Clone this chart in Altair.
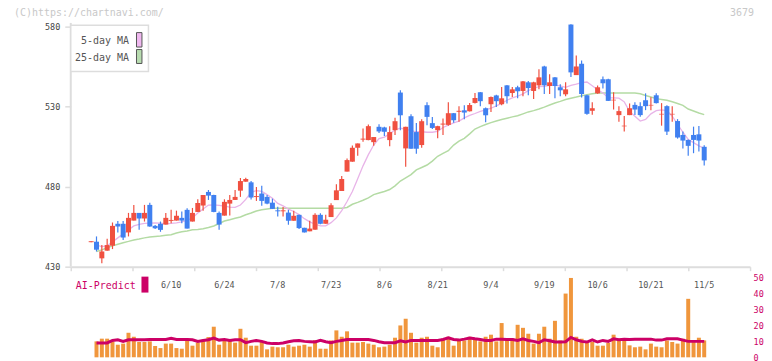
import altair as alt
import pandas as pd

MONO = "DejaVu Sans Mono"

opens = [445.3, 445.6, 435.2, 440.0, 443.1, 456.8, 456.8, 451.4, 458.8, 463.6,
         460.1, 468.6, 455.5, 456.8, 456.3, 458.6, 458.8, 460.5, 465.5, 458.2,
         464.2, 468.2, 476.7, 474.8, 463.6, 461.9, 469.4, 471.7, 477.5, 483.1,
         482.7, 473.5, 475.7, 473.6, 470.0, 465.2, 464.6, 463.8, 458.7, 462.4,
         454.3, 452.1, 453.1, 462.4, 456.8, 461.0, 471.6, 477.3, 489.4, 495.6,
         504.3, 509.4, 509.1, 507.8, 517.4, 517.0, 509.1, 515.3, 538.8, 503.9,
         524.0, 514.1, 506.0, 530.9, 519.7, 515.3, 518.8, 518.6, 525.9, 526.8,
         527.7, 527.1, 532.3, 539.0, 529.0, 531.5, 537.0, 531.5, 543.3, 538.5,
         542.1, 539.8, 545.2, 539.8, 543.3, 555.1, 542.9, 548.3, 542.1, 537.7,
         581.3, 549.7, 556.8, 537.1, 527.4, 538.3, 547.1, 547.1, 533.9, 524.7,
         517.7, 524.7, 531.1, 530.3, 534.0, 530.7, 537.1, 525.1, 530.3, 525.1,
         521.0, 512.3, 509.2, 512.3, 512.7, 504.9]
highs = [445.9, 448.9, 443.6, 447.4, 457.6, 458.6, 458.6, 463.6, 468.6, 463.6,
         468.6, 469.9, 456.0, 458.2, 463.6, 465.5, 465.0, 464.4, 466.5, 466.7,
         472.1, 474.8, 477.9, 475.0, 464.4, 472.1, 474.8, 477.9, 485.4, 485.5,
         483.6, 479.8, 480.6, 474.8, 472.5, 467.5, 467.3, 465.5, 464.9, 462.4,
         454.3, 458.7, 463.4, 463.4, 462.4, 469.6, 481.5, 486.7, 497.6, 505.7,
         507.0, 516.4, 518.8, 511.0, 519.0, 517.5, 517.7, 523.0, 540.2, 517.4,
         525.3, 519.8, 522.1, 532.7, 523.6, 518.0, 522.6, 532.7, 526.0, 530.2,
         530.9, 532.3, 538.5, 539.2, 529.5, 536.3, 537.5, 542.3, 543.5, 542.3,
         543.0, 546.0, 546.0, 545.5, 553.3, 555.5, 550.2, 548.5, 544.0, 545.3,
         581.5, 562.0, 558.9, 537.5, 532.8, 543.2, 548.9, 547.5, 539.0, 530.3,
         524.1, 532.0, 532.8, 532.8, 538.3, 535.9, 538.3, 532.2, 530.8, 530.3,
         522.2, 514.4, 509.5, 517.5, 517.9, 505.9]
lows = [445.3, 439.5, 432.1, 440.0, 441.0, 451.4, 446.6, 448.9, 458.8, 453.0,
        458.2, 455.0, 453.5, 451.8, 456.3, 457.2, 458.8, 457.2, 453.8, 458.2,
        464.2, 465.0, 471.7, 464.0, 453.0, 461.9, 461.9, 471.7, 473.6, 483.0,
        471.9, 471.1, 468.0, 469.0, 466.0, 461.3, 461.3, 456.2, 458.7, 453.5,
        451.4, 452.1, 453.1, 456.5, 456.8, 461.0, 471.6, 477.3, 489.4, 495.6,
        499.3, 508.0, 509.0, 505.5, 513.5, 511.6, 505.3, 512.2, 515.3, 492.5,
        503.7, 500.5, 504.3, 518.4, 516.0, 510.3, 512.2, 518.0, 520.0, 520.5,
        522.1, 527.0, 532.0, 530.2, 520.3, 526.7, 529.8, 530.9, 531.9, 536.0,
        535.2, 536.5, 537.1, 534.8, 540.8, 537.9, 537.9, 535.2, 536.5, 536.5,
        548.5, 549.7, 535.7, 524.9, 524.9, 538.0, 541.3, 533.6, 528.2, 520.6,
        514.4, 524.7, 524.7, 523.7, 527.8, 527.8, 532.0, 518.1, 512.3, 520.6,
        510.0, 503.8, 499.3, 500.9, 502.0, 493.2]
closes = [445.9, 440.6, 439.5, 443.5, 455.5, 455.1, 448.2, 460.5, 463.6, 460.1,
          463.6, 455.1, 454.0, 453.0, 460.5, 459.2, 461.8, 458.8, 453.8, 463.6,
          469.8, 474.8, 474.4, 464.2, 456.3, 470.5, 471.7, 473.6, 483.5, 484.8,
          473.2, 474.1, 471.1, 469.4, 466.1, 464.6, 465.2, 458.7, 461.8, 454.1,
          451.4, 453.8, 462.4, 456.8, 459.3, 468.4, 477.7, 484.8, 496.6, 504.3,
          507.0, 510.0, 517.8, 511.0, 514.5, 514.3, 514.1, 520.9, 524.6, 517.4,
          503.7, 503.7, 520.9, 523.6, 516.7, 517.8, 519.4, 525.9, 521.5, 527.4,
          526.3, 531.0, 535.4, 533.4, 524.6, 536.0, 533.4, 535.2, 536.5, 540.8,
          539.6, 545.8, 541.6, 545.2, 548.3, 543.3, 545.2, 542.9, 540.2, 540.8,
          551.4, 555.1, 537.9, 525.5, 529.0, 542.1, 544.6, 533.6, 534.3, 527.2,
          518.1, 529.0, 528.2, 524.7, 530.3, 531.1, 532.2, 525.5, 514.4, 525.5,
          510.7, 508.8, 505.5, 509.2, 508.8, 496.4]

ma5 = [None, 443.5, 442.5, 443.0, 445.5, 448.0, 450.5, 453.0, 455.5, 456.5,
       457.0, 457.2, 457.4, 457.2, 456.8, 457.0, 457.4, 458.0, 459.0, 460.5,
       463.5, 466.0, 468.5, 468.6, 468.3, 467.8, 467.2, 467.0, 468.5, 472.0,
       476.5, 477.5, 477.0, 475.0, 472.8, 469.5, 468.0, 466.0, 464.5, 462.5,
       460.0, 458.0, 456.5, 455.5, 455.5, 457.5, 460.5, 465.0, 470.7, 477.0,
       485.0, 493.0, 500.0, 506.0, 510.0, 511.0, 513.0, 515.5, 516.5, 516.0,
       515.0, 514.3, 514.3, 514.0, 514.0, 514.5, 517.0, 518.5, 519.8, 521.0,
       523.0, 524.5, 525.7, 527.0, 528.0, 529.0, 530.5, 532.0, 534.0, 535.5,
       536.5, 538.0, 540.0, 541.5, 542.5, 542.7, 543.3, 543.3, 543.0, 542.0,
       543.3, 544.0, 545.0, 545.4, 543.0, 540.5, 538.5, 535.6, 535.5, 535.3,
       533.0, 527.0, 524.0, 521.0, 522.0, 525.5, 527.5, 528.0, 527.5, 524.0,
       519.0, 514.0, 509.5, 507.5, 505.5, 504.0]
ma25 = [None, 439.5, 440.5, 441.8, 443.0, 444.0, 445.0, 445.8, 446.7, 447.3,
        448.0, 448.5, 448.9, 449.2, 449.6, 450.0, 451.0, 451.8, 452.3, 453.0,
        453.3, 453.7, 454.5, 455.4, 457.0, 458.5, 459.3, 460.2, 461.0, 462.4,
        463.5, 464.8, 465.5, 466.0, 466.5, 466.5, 466.5, 466.5, 466.5, 466.5,
        466.5, 466.5, 466.5, 466.5, 466.5, 466.5, 466.5, 466.5, 467.0, 469.0,
        470.2, 471.5, 473.0, 475.0, 476.0, 477.0, 478.2, 480.5, 483.5, 485.5,
        487.5, 490.5, 492.0, 493.5, 496.0, 499.0, 500.8, 502.5, 506.0, 508.5,
        510.2, 513.0, 516.0, 517.5, 518.8, 520.0, 521.0, 522.0, 522.8, 523.6,
        524.3, 525.5, 526.7, 527.5, 528.5, 529.7, 531.0, 532.3, 533.3, 534.5,
        535.3, 536.0, 536.8, 537.5, 538.0, 538.5, 538.5, 538.5, 538.5, 538.5,
        538.5, 538.5, 538.5, 538.0, 537.0, 536.0, 535.0, 534.5, 534.0, 533.0,
        532.0, 530.8, 528.5, 527.3, 526.0, 525.0]

volumes = [None, 10.0, 11.7, 11.7, 9.6, 7.9, 8.6, 15.4, 12.9, 9.6,
           9.6, 10.0, 7.1, 5.8, 8.6, 8.6, 5.8, 5.4, 11.7, 7.3,
           9.2, 10.6, 12.7, 19.2, 7.9, 10.6, 10.6, 9.2, 17.9, 12.3,
           7.3, 7.3, 9.6, 5.0, 6.7, 6.3, 6.3, 7.9, 6.7, 7.3,
           7.9, 6.7, 10.8, 5.4, 5.4, 10.6, 16.9, 12.9, 16.3, 9.2,
           9.2, 9.6, 8.6, 7.9, 6.3, 6.7, 7.9, 12.3, 20.0, 24.2,
           15.4, 9.2, 12.3, 12.9, 7.3, 6.3, 11.7, 12.9, 7.3, 10.6,
           10.6, 12.9, 11.7, 10.0, 12.9, 14.2, 10.0, 21.5, 12.1, 12.1,
           20.4, 18.5, 14.8, 8.6, 14.8, 19.2, 11.7, 22.9, 10.6, 40.0,
           49.8, 12.9, 11.7, 9.6, 9.6, 7.3, 7.3, 9.0, 14.2, 11.7,
           11.7, 7.5, 6.3, 6.7, 5.0, 8.6, 6.7, 6.3, 10.6, 9.6,
           8.6, 11.7, 36.7, 9.6, 12.3, 10.6]
ai_predict = [None, 9.0, 9.0, 9.0, 10.6, 11.0, 10.0, 11.0, 11.0, 11.0,
              11.0, 11.2, 11.2, 11.2, 11.2, 11.9, 11.2, 11.2, 11.2, 11.0,
              10.0, 10.6, 11.0, 12.1, 10.8, 11.2, 10.6, 11.0, 11.0, 9.2,
              10.0, 10.6, 10.0, 9.0, 8.6, 8.6, 9.0, 9.8, 10.4, 10.6,
              10.0, 9.8, 9.6, 10.6, 9.8, 9.2, 10.0, 10.6, 11.2, 11.2,
              11.2, 11.2, 11.2, 10.6, 9.8, 9.2, 9.2, 9.2, 10.4, 9.6,
              10.6, 10.6, 10.6, 10.6, 10.6, 10.6, 11.2, 12.3, 11.2, 10.8,
              11.4, 12.1, 11.6, 11.2, 10.6, 10.6, 11.4, 11.4, 11.2, 11.2,
              10.6, 11.6, 10.6, 10.0, 9.2, 11.0, 10.4, 9.6, 9.6, 9.8,
              12.5, 11.0, 10.0, 9.6, 11.0, 9.6, 10.6, 10.0, 11.6, 11.0,
              11.4, 11.2, 11.4, 11.4, 11.4, 11.4, 10.8, 10.8, 11.6, 11.6,
              11.6, 10.8, 10.0, 10.0, 10.0, 10.0]

date_labels = ["6/10", "6/24", "7/8", "7/23", "8/6", "8/21", "9/4", "9/19", "10/6", "10/21", "11/5"]
date_label_idx = [15, 25, 35, 45, 55, 65, 75, 85, 95, 105, 115]
x_tick_idx = [-3.83, 7.755, 19.34, 30.925, 42.51, 54.095, 65.68, 77.265, 88.85, 100.435, 112.02, 123.6]
price_ticks = [430, 480, 530, 580]
volume_ticks = [0, 10, 20, 30, 40, 50]

UP, DOWN = "#f05040", "#4080f0"

df = pd.DataFrame({"idx": list(range(len(opens))), "open": opens, "high": highs,
                   "low": lows, "close": closes, "ma5": ma5, "ma25": ma25,
                   "vol": volumes, "ai": ai_predict})
df["dir"] = ["up" if c >= o else "down" for o, c in zip(opens, closes)]

xscale = alt.Scale(domain=[-3.83, 123.6], nice=False, zero=False, padding=0)
xaxis = alt.Axis(values=x_tick_idx, labels=False, title=None, grid=False,
                 domainColor="#dddddd", domainWidth=2, tickColor="#dddddd",
                 tickWidth=1.5, tickSize=4, offset=-91)
X = alt.X("idx:Q", scale=xscale, axis=xaxis)

pscale = alt.Scale(domain=[373.36, 583.73], nice=False, zero=False)
paxis = alt.Axis(values=price_ticks, orient="left", domain=False, grid=False, title=None,
                 tickColor="#dddddd", tickWidth=1.5, tickSize=6, labelColor="#444444",
                 labelFont=MONO, labelFontSize=8.5, labelPadding=5)
vscale = alt.Scale(domain=[0, 211.25], nice=False, zero=True)
vaxis = alt.Axis(values=volume_ticks, orient="right", domain=False, ticks=False, grid=False,
                 title=None, labelColor="#cc0066", labelFont=MONO, labelFontSize=8.5,
                 labelPadding=3)

color = alt.Color("dir:N", scale=alt.Scale(domain=["up", "down"], range=[UP, DOWN]), legend=None)

base = alt.Chart(df)

vol_bars = base.mark_bar(width=4, color="#f0963c").encode(
    x=X, y=alt.Y("vol:Q", scale=vscale, axis=vaxis))
ai_line = base.mark_line(color="#cc0066", strokeWidth=3).encode(
    x=X, y=alt.Y("ai:Q", scale=vscale, axis=vaxis))
vol_layer = alt.layer(vol_bars, ai_line)

axis_line = alt.Chart(pd.DataFrame({"idx": [-3.83], "lo": [430], "hi": [582.3]})).mark_rule(
    color="#dddddd", strokeWidth=2).encode(
    x=X, y=alt.Y("lo:Q", scale=pscale, axis=paxis), y2="hi:Q")
ma25_line = base.mark_line(color="#b4dba4", strokeWidth=1.5).encode(
    x=X, y=alt.Y("ma25:Q", scale=pscale, axis=paxis))
ma5_line = base.mark_line(color="#e8b4e8", strokeWidth=1.3).encode(
    x=X, y=alt.Y("ma5:Q", scale=pscale, axis=paxis))
wicks = base.mark_rule(strokeWidth=1.2).encode(
    x=X, y=alt.Y("low:Q", scale=pscale, axis=paxis), y2="high:Q", color=color)
bodies = base.mark_bar(width=5).encode(
    x=X, y=alt.Y("open:Q", scale=pscale, axis=paxis), y2="close:Q", color=color)
price_layer = alt.layer(axis_line, ma25_line, ma5_line, wicks, bodies)

one = pd.DataFrame({"k": [0]})
date_text = alt.Chart(pd.DataFrame({"idx": date_label_idx, "label": date_labels})).mark_text(
    font=MONO, fontSize=8.5, color="#555555", align="center", baseline="middle").encode(
    x=X, y=alt.value(265), text="label:N")

legend_box = alt.Chart(one).mark_rect(fill="white", stroke="#dddddd", strokeWidth=1.5).encode(
    x=alt.value(0), x2=alt.value(78), y=alt.value(4.5), y2=alt.value(51))
sw5 = alt.Chart(one).mark_rect(fill="#f0b8f0", stroke="#555555", strokeWidth=1).encode(
    x=alt.value(66), x2=alt.value(71.5), y=alt.value(12), y2=alt.value(26.5))
sw25 = alt.Chart(one).mark_rect(fill="#b8dcb0", stroke="#555555", strokeWidth=1).encode(
    x=alt.value(66), x2=alt.value(71.5), y=alt.value(29), y2=alt.value(43))
t5 = alt.Chart(one).mark_text(text="5-day MA", font=MONO, fontSize=10, color="#555555",
                              align="right", baseline="middle").encode(
    x=alt.value(58.5), y=alt.value(20))
t25 = alt.Chart(one).mark_text(text="25-day MA", font=MONO, fontSize=10, color="#555555",
                               align="right", baseline="middle").encode(
    x=alt.value(58.5), y=alt.value(37.5))
ai_text = alt.Chart(one).mark_text(text="AI-Predict", font=MONO, fontSize=10, color="#cc0066",
                                   align="left", baseline="middle").encode(
    x=alt.value(5), y=alt.value(266))
ai_sw = alt.Chart(one).mark_rect(fill="#cc0066").encode(
    x=alt.value(71), x2=alt.value(78), y=alt.value(257), y2=alt.value(273))
watermark = alt.Chart(one).mark_text(text="(C)https://chartnavi.com/", font=MONO, fontSize=10,
                                     color="#c8c8c8", align="left", baseline="middle").encode(
    x=alt.value(-57), y=alt.value(-8))
code = alt.Chart(one).mark_text(text="3679", font=MONO, fontSize=10, color="#c8c8c8",
                                align="right", baseline="middle").encode(
    x=alt.value(686), y=alt.value(-8))
deco = alt.layer(date_text, legend_box, sw5, sw25, t5, t25, ai_text, ai_sw, watermark, code)

chart = alt.layer(vol_layer, price_layer, deco).resolve_scale(y="independent").properties(
    width=682, height=338,
    padding={"left": 63, "top": 12, "right": 14, "bottom": 3},
    autosize=alt.AutoSizeParams(type="none"),
).configure_view(strokeWidth=0)

chart.save("out.html", embed_options={"renderer": "svg", "actions": False})
